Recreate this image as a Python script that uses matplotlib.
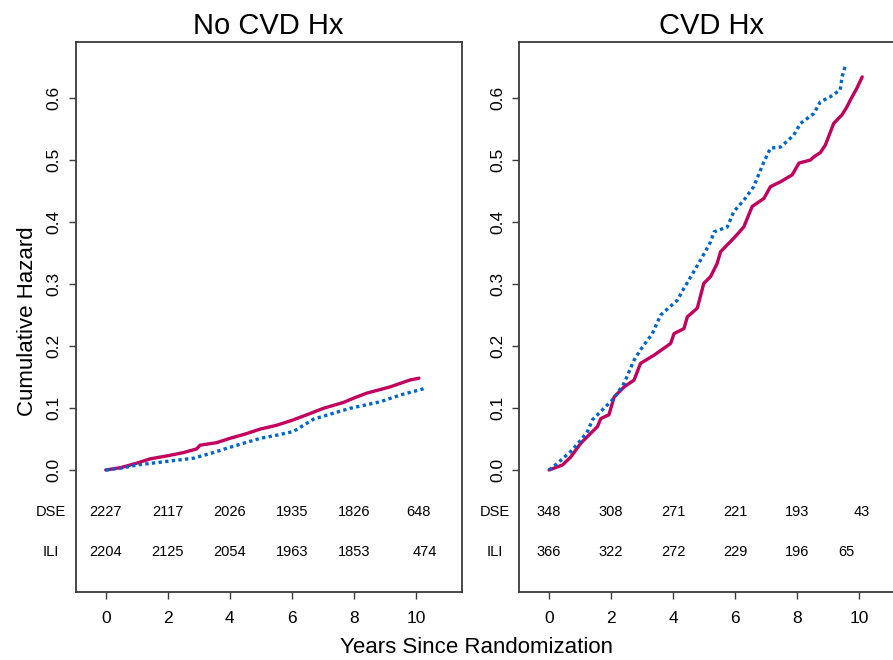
import matplotlib
matplotlib.use("Agg")
import matplotlib.pyplot as plt

plt.rcParams['font.family'] = ['Liberation Sans', 'DejaVu Sans']

# ---------------- data ----------------
panel_titles = ["No CVD Hx", "CVD Hx"]
group_labels = ["DSE", "ILI"]

# No CVD Hx
nocvd_dse_t = [0, 0.5, 1.0, 1.43, 2.0, 2.5, 2.93, 3.04, 3.57, 4.0, 4.5, 4.98, 5.5, 6.0,
               6.48, 7.02, 7.67, 8.0, 8.42, 9.17, 9.8, 10.1]
nocvd_dse_h = [0, 0.004, 0.011, 0.018, 0.023, 0.028, 0.034, 0.040, 0.044, 0.051, 0.058,
               0.066, 0.072, 0.080, 0.089, 0.0995, 0.109, 0.116, 0.124, 0.134, 0.145, 0.148]
nocvd_ili_t = [0, 0.5, 1.0, 2.0, 2.83, 3.4, 3.9, 4.5, 4.98, 5.5, 6.05, 6.7, 7.3, 7.88,
               8.85, 9.5, 10.25]
nocvd_ili_h = [0, 0.003, 0.008, 0.014, 0.019, 0.027, 0.035, 0.044, 0.051, 0.056, 0.062,
               0.082, 0.091, 0.0995, 0.110, 0.121, 0.131]

# CVD Hx
cvd_dse_t = [0, 0.43, 0.7, 1.02, 1.34, 1.56, 1.67, 1.93, 2.1, 2.42, 2.74, 2.95, 3.38, 3.92,
             4.03, 4.35, 4.46, 4.78, 4.99, 5.21, 5.42, 5.53, 5.96, 6.28, 6.55, 6.93, 7.14,
             7.47, 7.84, 8.06, 8.43, 8.54, 8.75, 8.91, 9.18, 9.45, 9.61, 9.72, 9.93, 10.1]
cvd_dse_h = [0, 0.008, 0.021, 0.043, 0.059, 0.070, 0.083, 0.089, 0.118, 0.134, 0.145,
             0.172, 0.185, 0.204, 0.220, 0.228, 0.247, 0.261, 0.301, 0.312, 0.333, 0.352,
             0.374, 0.392, 0.425, 0.438, 0.457, 0.465, 0.476, 0.495, 0.500, 0.505, 0.512,
             0.524, 0.559, 0.573, 0.586, 0.597, 0.616, 0.634]
cvd_ili_t = [0, 0.32, 0.7, 1.02, 1.24, 1.4, 1.56, 1.88, 2.1, 2.42, 2.74, 2.95, 3.33, 3.6,
             4.14, 4.35, 4.89, 5.21, 5.32, 5.75, 5.96, 6.28, 6.6, 6.93, 7.14, 7.47, 7.89,
             8.11, 8.54, 8.75, 9.07, 9.39, 9.45, 9.56]
cvd_ili_h = [0, 0.013, 0.030, 0.048, 0.062, 0.081, 0.089, 0.105, 0.116, 0.140, 0.177,
             0.194, 0.220, 0.250, 0.274, 0.293, 0.339, 0.368, 0.384, 0.392, 0.417, 0.435,
             0.457, 0.497, 0.519, 0.521, 0.540, 0.559, 0.575, 0.594, 0.602, 0.613, 0.634,
             0.653]

# numbers at risk
nocvd_risk_dse_t = [0, 2, 4, 6, 8, 10.1]
nocvd_risk_dse = ["2227", "2117", "2026", "1935", "1826", "648"]
nocvd_risk_ili_t = [0, 2, 4, 6, 8, 10.3]
nocvd_risk_ili = ["2204", "2125", "2054", "1963", "1853", "474"]
cvd_risk_dse_t = [0, 2, 4, 6, 8, 10.1]
cvd_risk_dse = ["348", "308", "271", "221", "193", "43"]
cvd_risk_ili_t = [0, 2, 4, 6, 8, 9.6]
cvd_risk_ili = ["366", "322", "272", "229", "196", "65"]

x_ticks = [0, 2, 4, 6, 8, 10]
y_ticks = [0.0, 0.1, 0.2, 0.3, 0.4, 0.5, 0.6]

# ---------------- styling ----------------
DSE_COLOR = "#C2005E"
ILI_COLOR = "#0066CC"
SPINE = "#3a3a3a"

W, H = 893, 660
fig = plt.figure(figsize=(W / 100, H / 100), dpi=100)

def frac(l, r, t, b):
    return [l / W, 1 - b / H, (r - l) / W, (b - t) / H]

ax1 = fig.add_axes(frac(75.7, 461.7, 42, 591.7))
ax2 = fig.add_axes(frac(519, 905, 42, 591.7))

panels = [
    (ax1, panel_titles[0], nocvd_dse_t, nocvd_dse_h, nocvd_ili_t, nocvd_ili_h,
     nocvd_risk_dse_t, nocvd_risk_dse, nocvd_risk_ili_t, nocvd_risk_ili),
    (ax2, panel_titles[1], cvd_dse_t, cvd_dse_h, cvd_ili_t, cvd_ili_h,
     cvd_risk_dse_t, cvd_risk_dse, cvd_risk_ili_t, cvd_risk_ili),
]

for (ax, title, dt, dh, it, ih, rdt, rd, rit, ri) in panels:
    ax.plot(dt, dh, color=DSE_COLOR, lw=2.4, solid_capstyle='round',
            solid_joinstyle='round', zorder=3)
    ax.plot(it, ih, color=ILI_COLOR, lw=2.4, linestyle=(0, (1.0, 1.0)),
            dash_capstyle='butt', zorder=3)
    ax.set_xlim(-0.97, 11.48)
    ax.set_ylim(-0.1963, 0.6903)
    ax.set_xticks(x_ticks)
    ax.set_xticklabels([str(v) for v in x_ticks])
    ax.set_yticks(y_ticks)
    ax.set_yticklabels([f"{v:.1f}" for v in y_ticks], rotation=90, va='center')
    ax.tick_params(axis='both', labelsize=12.5, length=5, width=1.0, color=SPINE,
                   direction='out')
    ax.tick_params(axis='x', pad=9)
    ax.tick_params(axis='y', pad=5)
    for sp in ax.spines.values():
        sp.set_color(SPINE)
        sp.set_linewidth(1.3)
    ax.set_title(title, fontsize=21, pad=6)

    for x, s in zip(rdt, rd):
        ax.text(x, -0.067, s, ha='center', va='center', fontsize=10.5)
    for x, s in zip(rit, ri):
        ax.text(x, -0.132, s, ha='center', va='center', fontsize=10.5)
    ax.text(-1.76, -0.067, group_labels[0], ha='center', va='center',
            fontsize=10.5, clip_on=False)
    ax.text(-1.76, -0.132, group_labels[1], ha='center', va='center',
            fontsize=10.5, clip_on=False)

fig.text(476.7 / W, 1 - 647.7 / H, "Years Since Randomization", ha='center',
         va='center', fontsize=16)
fig.text(28 / W, 1 - 321 / H, "Cumulative Hazard", ha='center', va='center',
         rotation=90, fontsize=16)

fig.savefig("out.png", dpi=100)
